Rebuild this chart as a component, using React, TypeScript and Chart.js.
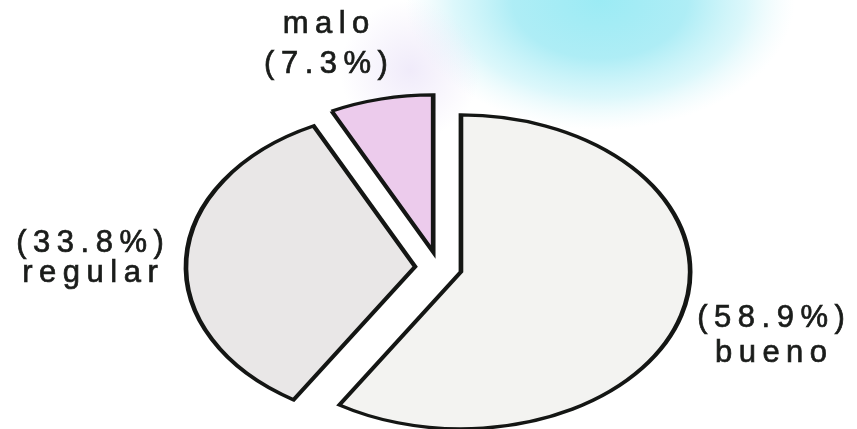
import React, { useEffect, useRef } from "react";
import { Chart, registerables } from "chart.js";

Chart.register(...registerables);

// Survey answers, clockwise from 12 o'clock
const categories = ["bueno", "regular", "malo"];
const percentages = [58.9, 33.8, 7.3];
const sliceColors = ["#f3f3f1", "#e9e7e7", "#eccbec"];

// Pie is drawn squashed into an ellipse and exploded
const STRETCH_X = 1.46;
const EXPLODE = 16;

// Label anchor (centre x, first baseline y) and line order for each slice
const labelSpots: Record<string, { x: number; y: number; nameFirst: boolean; gap: number }> = {
  bueno: { x: 771, y: 327, nameFirst: false, gap: 35 },
  regular: { x: 90, y: 252, nameFirst: false, gap: 30 },
  malo: { x: 326, y: 33, nameFirst: true, gap: 40 },
};

const ellipsePie = {
  id: "ellipsePie",
  beforeDraw(chart: any) {
    const ctx: CanvasRenderingContext2D = chart.ctx;
    ctx.save();
    ctx.fillStyle = "#ffffff";
    ctx.fillRect(0, 0, chart.width, chart.height);
    // soft cyan wash behind the top of the chart
    ctx.translate(600, 0);
    ctx.scale(1.5, 1);
    const g = ctx.createRadialGradient(0, 0, 0, 0, 0, 130);
    g.addColorStop(0, "rgba(150,234,244,0.95)");
    g.addColorStop(0.45, "rgba(160,234,244,0.85)");
    g.addColorStop(0.75, "rgba(185,240,247,0.5)");
    g.addColorStop(1, "rgba(220,246,250,0)");
    ctx.fillStyle = g;
    ctx.beginPath();
    ctx.arc(0, 0, 130, 0, Math.PI * 2);
    ctx.fill();
    ctx.restore();
    // faint lavender tint left of the wash
    ctx.save();
    const p = ctx.createRadialGradient(410, 70, 0, 410, 70, 70);
    p.addColorStop(0, "rgba(225,215,245,0.5)");
    p.addColorStop(1, "rgba(225,215,245,0)");
    ctx.fillStyle = p;
    ctx.fillRect(330, 0, 160, 150);
    ctx.restore();
  },
  beforeDatasetsDraw(chart: any) {
    const ctx: CanvasRenderingContext2D = chart.ctx;
    const arcs = chart.getDatasetMeta(0).data;
    if (!arcs.length) return false;
    const cx = arcs[0].x;
    const cy = arcs[0].y;
    ctx.save();
    ctx.translate(cx, cy);
    ctx.scale(STRETCH_X, 1);
    ctx.translate(-cx, -cy);
    arcs.forEach((arc: any) => {
      const mid = (arc.startAngle + arc.endAngle) / 2;
      ctx.save();
      ctx.translate(Math.cos(mid) * EXPLODE, Math.sin(mid) * EXPLODE);
      arc.draw(ctx);
      ctx.restore();
    });
    ctx.restore();
    return false;
  },
  afterDraw(chart: any) {
    const ctx: any = chart.ctx;
    const spacing = 6.5;
    ctx.save();
    ctx.fillStyle = "#1a1c1a";
    ctx.strokeStyle = "#1a1c1a";
    ctx.lineWidth = 0.7;
    ctx.font = '31px "Liberation Sans", Arial, sans-serif';
    ctx.textAlign = "center";
    ctx.textBaseline = "alphabetic";
    ctx.letterSpacing = spacing + "px";
    categories.forEach((name, i) => {
      const spot = labelSpots[name];
      const pct = `(${percentages[i].toFixed(1)}%)`;
      const lines = spot.nameFirst ? [name, pct] : [pct, name];
      lines.forEach((t, k) => {
        const x = spot.x + spacing / 2;
        const y = spot.y + k * spot.gap;
        ctx.fillText(t, x, y);
        ctx.strokeText(t, x, y);
      });
    });
    ctx.restore();
  },
};

export default function App() {
  const canvasRef = useRef<HTMLCanvasElement | null>(null);

  useEffect(() => {
    if (!canvasRef.current) return;
    const chart = new Chart(canvasRef.current, {
      type: "pie",
      data: {
        labels: categories,
        datasets: [
          {
            data: percentages,
            backgroundColor: sliceColors,
            borderColor: "#141614",
            borderWidth: 3.2,
            borderJoinStyle: "miter",
          } as any,
        ],
      },
      options: {
        animation: false,
        responsive: false,
        rotation: 0,
        radius: 157,
        layout: { padding: { left: 20, top: 106 } },
        plugins: {
          legend: { display: false },
          tooltip: { enabled: false },
        },
      } as any,
      plugins: [ellipsePie],
    });
    return () => chart.destroy();
  }, []);

  return (
    <div style={{ position: "absolute", left: 0, top: 0, width: 857, height: 429 }}>
      <canvas ref={canvasRef} width={857} height={429} />
    </div>
  );
}
